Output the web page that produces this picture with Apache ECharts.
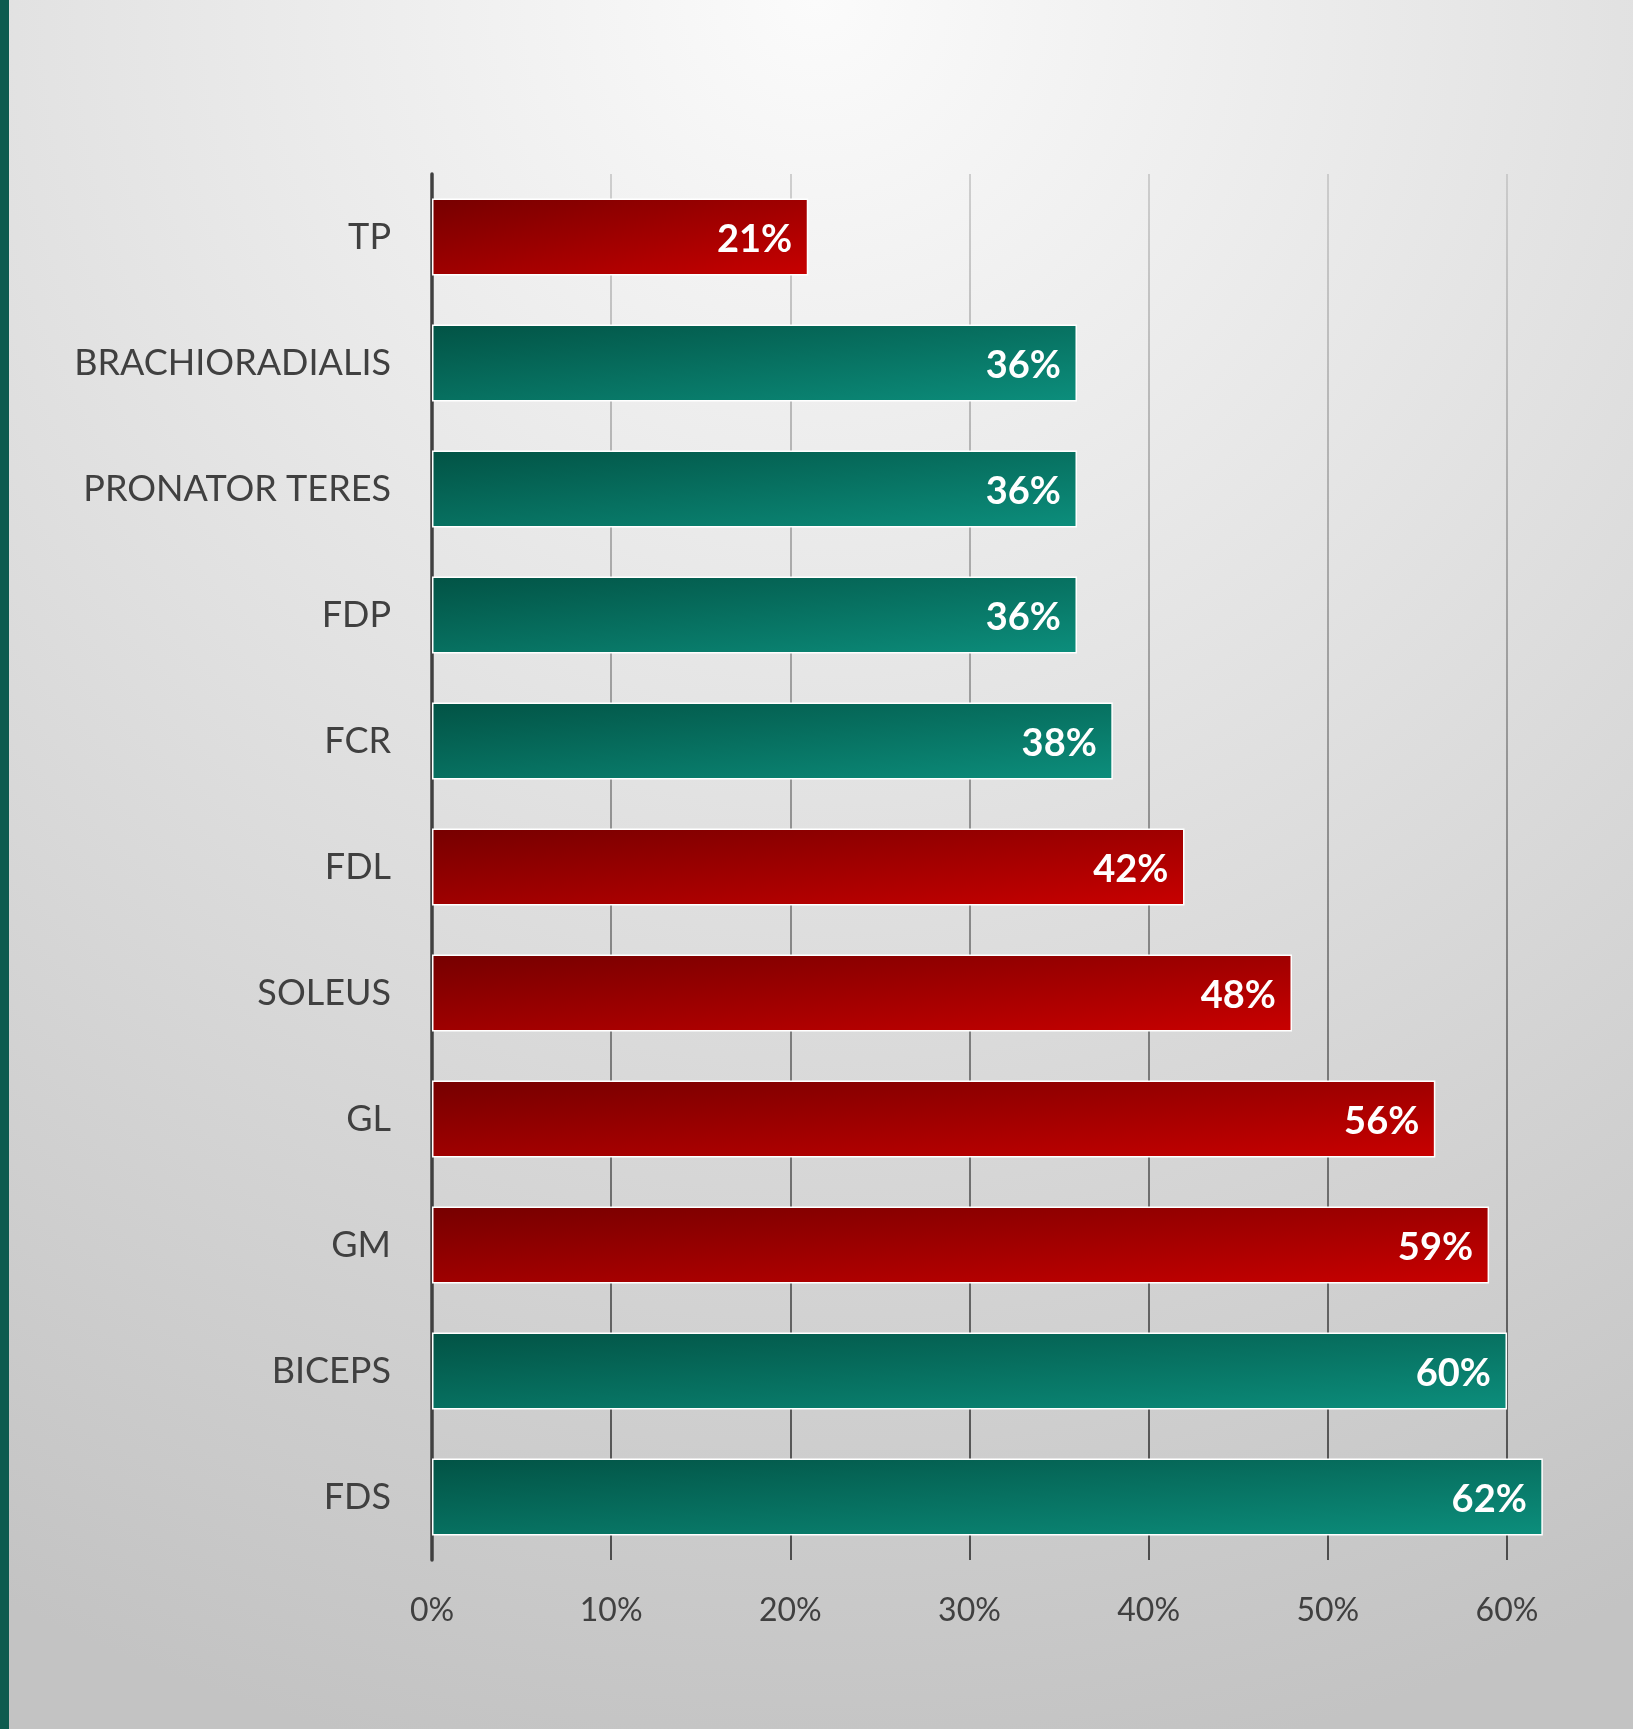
<!DOCTYPE html>
<html>
<head>
<meta charset="utf-8">
<script src="https://cdn.jsdelivr.net/npm/echarts@6/dist/echarts.min.js"></script>
<style>
  html, body { margin: 0; padding: 0; }
  #chart { width: 1633px; height: 1729px; }
</style>
</head>
<body>
<div id="chart"></div>
<script>
// ---- data ----
const categories = ['TP', 'BRACHIORADIALIS', 'PRONATOR TERES', 'FDP', 'FCR', 'FDL', 'SOLEUS', 'GL', 'GM', 'BICEPS', 'FDS'];
const values = [21, 36, 36, 36, 38, 42, 48, 56, 59, 60, 62];
const limb = ['lower', 'upper', 'upper', 'upper', 'upper', 'lower', 'lower', 'lower', 'lower', 'upper', 'upper'];
const xMin = 0, xMax = 60, xStep = 10;

// ---- styles ----
const palette = {
  lower: ['#760000', '#c80000'],
  upper: ['#025345', '#0c8e7c']
};

function fillFor(group, w, h) {
  const c = palette[group];
  if (!w || !h) {
    return new echarts.graphic.LinearGradient(0, 0, 1, 1, [{ offset: 0, color: c[0] }, { offset: 1, color: c[1] }]);
  }
  // bilinear-like diagonal gradient (t = (x/w + y/h)/2)
  const a = 1 / (w * w), b = 1 / (h * h);
  const x2 = 2 * a / (a + b), y2 = 2 * b / (a + b);
  return new echarts.graphic.LinearGradient(0, 0, x2, y2, [{ offset: 0, color: c[0] }, { offset: 1, color: c[1] }]);
}

const chart = echarts.init(document.getElementById('chart'), null, { renderer: 'canvas' });

function buildData(layouts) {
  return values.map((v, i) => {
    const L = layouts ? layouts[i] : null;
    return {
      value: v,
      itemStyle: { color: fillFor(limb[i], L ? Math.abs(L.width) : 0, L ? Math.abs(L.height) : 0) }
    };
  });
}

const option = {
  backgroundColor: new echarts.graphic.RadialGradient(0.5, 0, 1.1, [
    { offset: 0, color: '#fbfbfb' },
    { offset: 1, color: '#c3c3c3' }
  ]),
  animation: false,
  graphic: [{
    type: 'rect', left: 0, top: 0, shape: { width: 9, height: 1729 },
    style: { fill: '#0d5b4f' }, silent: true
  }],
  grid: { left: 432, right: 126, top: 174, bottom: 169, containLabel: false },
  xAxis: {
    type: 'value', min: xMin, max: xMax, interval: xStep,
    axisLine: { show: false }, axisTick: { show: false },
    axisLabel: {
      formatter: '{value}%', color: '#404040', fontSize: 32,
      fontFamily: 'Lato', margin: 35
    },
    splitLine: {
      show: true,
      lineStyle: {
        width: 1.5,
        color: new echarts.graphic.LinearGradient(0, 174, 0, 1560, [
          { offset: 0, color: '#c2c2c2' },
          { offset: 1, color: '#222222' }
        ], true)
      }
    }
  },
  yAxis: {
    type: 'category', data: categories, inverse: true,
    axisLine: { show: true, lineStyle: { color: '#404040', width: 3.5 } },
    axisTick: { show: false },
    axisLabel: { color: '#404040', fontSize: 36, fontFamily: 'Lato', margin: 41, padding: [4, 0, 0, 0] },
    splitLine: { show: false }
  },
  series: [{
    type: 'bar', data: buildData(null), barCategoryGap: '39%', clip: false,
    itemStyle: { borderColor: '#ffffff', borderWidth: 1.5 },
    label: {
      show: true, position: 'insideRight', distance: 16, offset: [0, 3],
      formatter: p => p.value + '%',
      color: '#ffffff', fontWeight: 'bold', fontSize: 38, fontFamily: 'Lato'
    }
  }]
};

chart.setOption(option);
try {
  const data = chart.getModel().getSeriesByIndex(0).getData();
  const layouts = values.map((v, i) => data.getItemLayout(i));
  chart.setOption({ series: [{ data: buildData(layouts) }] });
} catch (e) { /* keep simple gradients */ }
</script>
</body>
</html>
